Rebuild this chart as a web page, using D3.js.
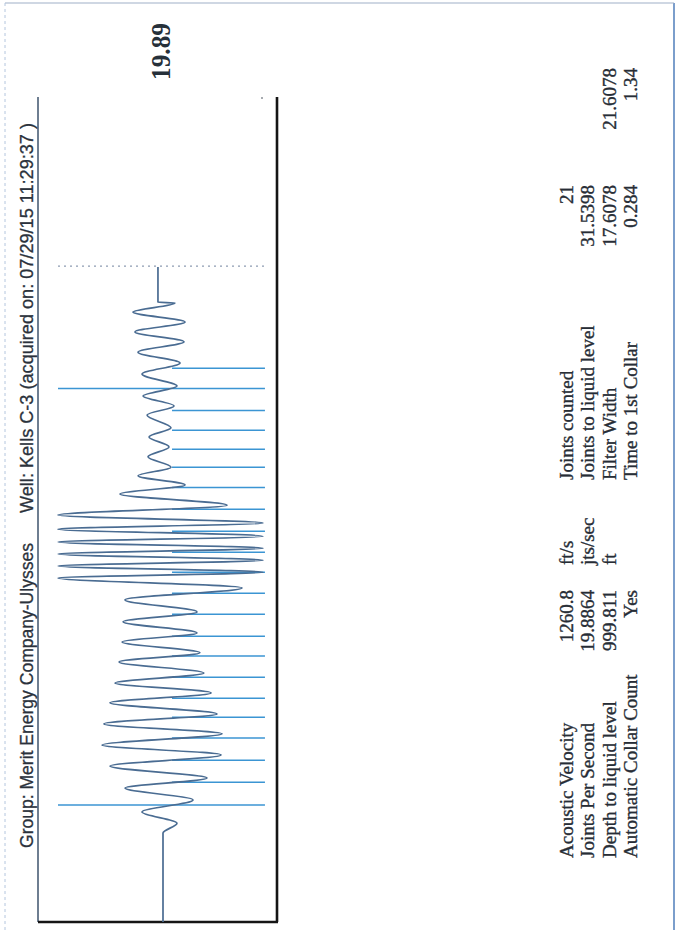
<!DOCTYPE html>
<html>
<head>
<meta charset="utf-8">
<script src="https://cdn.jsdelivr.net/npm/d3@7"></script>
<style>
	body { margin: 0; background: white; }
	svg { display: block; }
</style>
</head>
<body>
<div></div>
<script>
// echo trace: time (s) and amplitude (-1..1)
var trace_time = [0, 0.215, 0.239, 0.266, 0.295, 0.324, 0.348, 0.377, 0.404, 0.428,
	0.455, 0.479, 0.503, 0.530, 0.554, 0.578, 0.602, 0.629, 0.651, 0.677,
	0.699, 0.726, 0.750, 0.779, 0.808, 0.832, 0.846, 0.861, 0.875, 0.890,
	0.904, 0.919, 0.933, 0.950, 0.965, 0.984, 1.008, 1.035, 1.057, 1.079,
	1.100, 1.125, 1.149, 1.173, 1.195, 1.226, 1.248, 1.272, 1.296, 1.325,
	1.352, 1.378, 1.403, 1.427, 1.451, 1.475, 1.497, 1.499, 1.584];
var trace_amp = [0, 0, -0.133, 0.200, -0.286, 0.362, -0.419, 0.505, -0.552, 0.581,
	-0.562, 0.562, -0.514, 0.505, -0.457, 0.457, -0.390, 0.419, -0.352, 0.390,
	-0.324, 0.381, -0.324, 0.362, -0.752, 1.0, -0.952, 1.0, -0.952, 1.0,
	-0.952, 1.0, -0.952, 1.0, -0.952, 1.0, -0.610, 0.410, -0.210, 0.238,
	-0.076, 0.143, -0.057, 0.133, -0.076, 0.152, -0.105, 0.190, -0.133, 0.200,
	-0.162, 0.238, -0.200, 0.267, -0.210, 0.286, -0.114, 0.048, 0.048];

// collar markers (s)
var collar_times = [0.283, 0.338, 0.391, 0.445, 0.495, 0.541, 0.592, 0.643, 0.691, 0.744,
	0.795, 0.846, 0.894, 0.945, 0.998, 1.051, 1.100, 1.143, 1.189, 1.237, 1.290, 1.339];
var long_collars = [0.283, 1.290];
var liquid_level_time = 1.586;
var peak_label = '19.89';

var title_group = 'Group: Merit Energy Company-Ulysses';
var title_well = 'Well: Kells  C-3 (acquired on: 07/29/15 11:29:37 )';

var left_labels = ['Acoustic Velocity', 'Joints Per Second', 'Depth to liquid level', 'Automatic Collar Count'];
var left_values = ['1260.8', '19.8864', '999.811', 'Yes'];
var left_units = ['ft/s', 'jts/sec', 'ft', ''];
var right_labels = ['Joints counted', 'Joints to liquid level', 'Filter Width', 'Time to 1st Collar'];
var right_values = ['21', '31.5398', '17.6078', '0.284'];
var extra_values = ['', '', '21.6078', '1.34'];

function draw_chart() {
	var W = 679, H = 930;

	var svg = d3.select('div')
		.append('svg')
			.attr('width', W)
			.attr('height', H);

	// scanned page frame
	svg.append('line')
		.attr('x1', 674).attr('x2', 674).attr('y1', 3).attr('y2', H)
		.attr('stroke', '#5b86bf').attr('stroke-width', 1.6);
	svg.append('line')
		.attr('x1', 5).attr('x2', 674).attr('y1', 3).attr('y2', 3)
		.attr('stroke', '#9fb0c8').attr('stroke-width', 1.2);
	svg.append('line')
		.attr('x1', 5).attr('x2', 5).attr('y1', 3).attr('y2', H)
		.attr('stroke', '#b4c6de').attr('stroke-width', 1)
		.attr('stroke-dasharray', '3,3');

	// chart is printed sideways
	var g = svg.append('g')
		.attr('transform', 'translate(0,' + H + ') rotate(-90)');

	var x = d3.scaleLinear()
		.domain([0, 2])
		.range([8, 835]);
	var y = d3.scaleLinear()
		.domain([-1, 1])
		.range([268, 58]);

	var frame_top = 38, frame_bottom = 277;

	// plot frame
	g.append('line')
		.attr('x1', x(0)).attr('x2', x(2) - 2)
		.attr('y1', frame_top).attr('y2', frame_top)
		.attr('stroke', '#3e536c').attr('stroke-width', 1.5);
	g.append('line')
		.attr('x1', x(0)).attr('x2', x(2) - 2)
		.attr('y1', frame_bottom).attr('y2', frame_bottom)
		.attr('stroke', '#151515').attr('stroke-width', 2.6);
	g.append('line')
		.attr('x1', x(0)).attr('x2', x(0))
		.attr('y1', frame_top).attr('y2', frame_bottom + 1)
		.attr('stroke', '#151515').attr('stroke-width', 2.6);
	g.append('circle')
		.attr('cx', x(2) - 3).attr('cy', 262).attr('r', 1)
		.attr('fill', '#8a8f96');

	// liquid level
	g.append('line')
		.attr('x1', x(liquid_level_time)).attr('x2', x(liquid_level_time))
		.attr('y1', y(1)).attr('y2', y(-0.971))
		.attr('stroke', '#8d9cb2').attr('stroke-width', 1.3)
		.attr('stroke-dasharray', '2,4');

	// collar markers
	g.selectAll('collar')
		.data(collar_times)
		.enter()
		.append('line')
			.attr('x1', function(d) { return x(d); })
			.attr('x2', function(d) { return x(d); })
			.attr('y1', function(d) { return long_collars.indexOf(d) >= 0 ? y(1) : y(-0.086); })
			.attr('y2', y(-0.971))
			.attr('stroke', '#3b95d3')
			.attr('stroke-width', 1.5);

	// trace
	var points = trace_time.map(function(t, i) { return [t, trace_amp[i]]; });
	var line = d3.line()
		.x(function(d) { return x(d[0]); })
		.y(function(d) { return y(d[1]); })
		.curve(d3.curveMonotoneX);
	g.append('path')
		.datum(points)
		.attr('d', line)
		.attr('fill', 'none')
		.attr('stroke', '#4a6c92')
		.attr('stroke-width', 1.7);

	// title
	g.append('text')
		.attr('x', 82)
		.attr('y', 33)
		.attr('textLength', 305)
		.attr('lengthAdjust', 'spacingAndGlyphs')
		.text(title_group)
		.style('font-family', 'Liberation Sans, Arial, sans-serif')
		.style('font-size', '19px')
		.style('fill', '#2b323c')
		.style('stroke', '#2b323c')
		.style('stroke-width', '0.3px');
	g.append('text')
		.attr('x', 417)
		.attr('y', 33)
		.attr('textLength', 390)
		.attr('lengthAdjust', 'spacingAndGlyphs')
		.text(title_well)
		.style('font-family', 'Liberation Sans, Arial, sans-serif')
		.style('font-size', '19px')
		.style('fill', '#2b323c')
		.style('stroke', '#2b323c')
		.style('stroke-width', '0.3px');

	g.append('text')
		.attr('x', 850)
		.attr('y', 170)
		.attr('textLength', 57)
		.attr('lengthAdjust', 'spacingAndGlyphs')
		.text(peak_label)
		.style('font-family', 'Liberation Serif, Times New Roman, serif')
		.style('font-weight', 'bold')
		.style('font-size', '27px')
		.style('fill', '#26303a');

	// info table
	var rows = [573, 594, 616, 637];
	var serif = 'Liberation Serif, Times New Roman, serif';
	var add_col = function(list, xpos, anchor) {
		g.selectAll('info')
			.data(list)
			.enter()
			.append('text')
				.attr('x', xpos)
				.attr('y', function(d, i) { return rows[i]; })
				.attr('text-anchor', anchor)
				.text(function(d) { return d; })
				.style('font-family', serif)
				.style('font-size', '19px')
				.style('fill', '#272d36')
				.style('stroke', '#272d36')
				.style('stroke-width', '0.35px');
	};
	add_col(left_labels, 72, 'start');
	add_col(left_values, 340, 'end');
	add_col(left_units, 365, 'start');
	add_col(right_labels, 450, 'start');
	add_col(right_values, 745, 'end');
	add_col(extra_values, 862, 'end');
}

draw_chart();
</script>
</body>
</html>
